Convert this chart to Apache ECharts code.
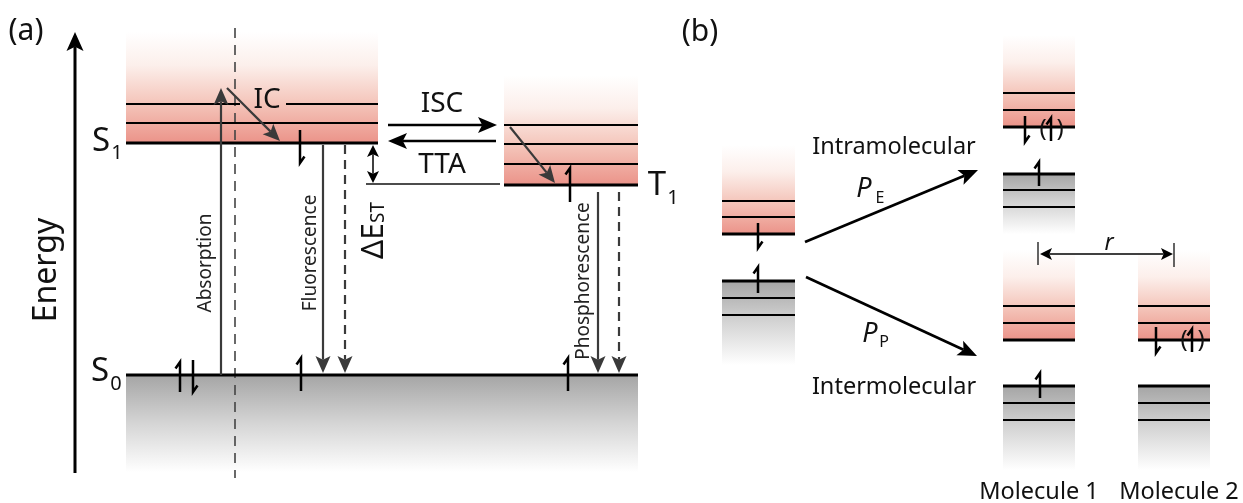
<!DOCTYPE html>
<html>
<head>
<meta charset="utf-8">
<script src="https://cdn.jsdelivr.net/npm/echarts@6/dist/echarts.min.js"></script>
<style>
  html, body { margin: 0; padding: 0; background: #ffffff; }
  #chart { width: 1243px; height: 503px; }
</style>
</head>
<body>
<div id="chart"></div>
<script>
// ---- Diagram data (x, y in diagram units; y grows downward) ----

// Excited-state manifolds: [xStart, xEnd, yFaded, yBase]
const excitedBands = [
  [126, 378, 32, 143],    // S1
  [504, 638, 75, 185],    // T1
  [722, 795, 145, 234],   // donor, panel (b)
  [1003, 1075, 35, 127],  // intramolecular product
  [1003, 1075, 250, 340], // molecule 1
  [1138, 1210, 250, 340]  // molecule 2
];

// Ground-state manifolds: [xStart, xEnd, yBase, yFaded]
const groundBands = [
  [126, 638, 375, 472],   // S0
  [722, 795, 281, 365],
  [1003, 1075, 174, 234],
  [1003, 1075, 386, 470],
  [1138, 1210, 386, 470]
];

// Vibrational sub-levels: [xStart, xEnd, y]
const vibLevels = [
  [126, 240, 104], [286, 378, 104], [126, 378, 123],
  [504, 638, 125], [504, 638, 144], [504, 638, 164],
  [722, 795, 201], [722, 795, 217],
  [722, 795, 298], [722, 795, 315],
  [1003, 1075, 93], [1003, 1075, 110],
  [1003, 1075, 190], [1003, 1075, 207],
  [1003, 1075, 306], [1003, 1075, 323],
  [1003, 1075, 403], [1003, 1075, 420],
  [1138, 1210, 306], [1138, 1210, 323],
  [1138, 1210, 403], [1138, 1210, 420]
];

// Lowest level of each manifold: [xStart, xEnd, y]
const baseLevels = [
  [126, 378, 143], [504, 638, 185], [126, 638, 375],
  [722, 795, 234], [722, 795, 281],
  [1003, 1075, 127], [1003, 1075, 174],
  [1003, 1075, 340], [1003, 1075, 386],
  [1138, 1210, 340], [1138, 1210, 386]
];

// Electron spins: [x, yTop, yBottom]
const spinUp = [
  [180, 362, 392], [301, 358, 391], [568, 358, 391], [570, 168, 202],
  [758, 267, 293], [1039, 162, 186], [1040, 373, 398],
  [1051, 118, 141], [1192, 329, 352]
];
const spinDown = [
  [193, 360, 392], [300, 130, 163], [758, 223, 248],
  [1025, 116, 142], [1156, 327, 353]
];
// Bracketed (optional) spins: [xCenter, yCenter]
const bracketedSpins = [[1051, 129], [1192, 340]];

// Transitions: [xFrom, yFrom, xTo, yTo]
const radiativeArrows = [
  [221, 375, 221, 88],   // absorption
  [227, 88, 280, 141],   // internal conversion
  [323, 145, 323, 373],  // fluorescence
  [510, 127, 555, 183],  // relaxation in T1
  [598, 192, 598, 373]   // phosphorescence
];
const delayedArrows = [
  [345, 145, 345, 373],
  [619, 192, 619, 373]
];
const transferArrows = [
  [388, 125, 497, 125],  // ISC
  [496, 141, 388, 141],  // TTA
  [805, 242, 978, 170],  // P_E
  [806, 277, 977, 356]   // P_P
];
const energyAxis = [[75, 473, 75, 32]];
const gapArrows = [
  [373, 145, 373, 183],  // singlet-triplet gap
  [1040, 254, 1173, 254] // separation r
];
const guideLines = [
  [366, 184, 500, 184],
  [1038, 242, 1038, 265],
  [1174, 243, 1174, 267]
];
const dashedGuide = [[235, 28, 235, 478]];

// Text
const panelLabels = [['(a)', 26, 31], ['(b)', 700, 32]];
const processLabels = [['IC', 267, 100], ['ISC', 442, 104], ['TTA', 442, 165]];
const transitionLabels = [
  ['Absorption', 206, 263], ['Fluorescence', 311, 253], ['Phosphorescence', 584, 281]
];
const axisLabels = [['Energy', 47, 270]];
const pathwayLabels = [
  ['Intramolecular', 894, 147], ['Intermolecular', 894, 387],
  ['Molecule 1', 1039, 492], ['Molecule 2', 1179, 492]
];
// [symbol, subscript, x, y, xSub, ySub]
const stateLabels = [
  ['S', '1', 101, 142, 117, 153],
  ['S', '0', 100, 372, 116, 384],
  ['T', '1', 657, 186, 673, 198]
];
const rateLabels = [
  ['P', 'E', 864, 189, 880, 198],
  ['P', 'P', 870, 334, 884, 342]
];
const gapLabel = [['\u0394E', 'ST', 374, 259]];
const distanceLabel = [['r', 1109, 243]];

// ---- Rendering ----
const FONT = '"Noto Sans", "Open Sans", sans-serif';
const chart = echarts.init(document.getElementById('chart'), null, { renderer: 'canvas' });

function bandRenderer(stops) {
  return function (params, api) {
    const a = api.coord([api.value(0), api.value(2)]);
    const b = api.coord([api.value(1), api.value(3)]);
    const top = Math.min(a[1], b[1]);
    const flip = a[1] > b[1];
    return {
      type: 'rect',
      shape: { x: a[0], y: top, width: b[0] - a[0], height: Math.abs(b[1] - a[1]) },
      style: {
        fill: new echarts.graphic.LinearGradient(0, flip ? 1 : 0, 0, flip ? 0 : 1, stops)
      },
      silent: true
    };
  };
}

function levelRenderer(width) {
  return function (params, api) {
    const a = api.coord([api.value(0), api.value(2)]);
    const b = api.coord([api.value(1), api.value(2)]);
    return {
      type: 'line',
      shape: { x1: a[0], y1: a[1], x2: b[0], y2: b[1] },
      style: { stroke: '#000000', lineWidth: width }
    };
  };
}

function head(p0, p1, len, half) {
  const dx = p1[0] - p0[0], dy = p1[1] - p0[1];
  const L = Math.hypot(dx, dy);
  const ux = dx / L, uy = dy / L, nx = -uy, ny = ux;
  const bx = p1[0] - ux * len, by = p1[1] - uy * len;
  const kx = p1[0] - ux * len * 0.78, ky = p1[1] - uy * len * 0.78;
  return {
    points: [[p1[0], p1[1]], [bx + nx * half, by + ny * half], [kx, ky], [bx - nx * half, by - ny * half]],
    end: [kx, ky]
  };
}

function arrowRenderer(o) {
  return function (params, api) {
    const p0 = api.coord([api.value(0), api.value(1)]);
    const p1 = api.coord([api.value(2), api.value(3)]);
    const children = [];
    let a = p0, b = p1;
    if (o.len) {
      const h = head(p0, p1, o.len, o.half);
      b = h.end;
      children.push({ type: 'polygon', shape: { points: h.points }, style: { fill: o.color } });
      if (o.both) {
        const h2 = head(p1, p0, o.len, o.half);
        a = h2.end;
        children.push({ type: 'polygon', shape: { points: h2.points }, style: { fill: o.color } });
      }
    }
    children.unshift({
      type: 'line',
      shape: { x1: a[0], y1: a[1], x2: b[0], y2: b[1] },
      style: { stroke: o.color, lineWidth: o.width, lineDash: o.dash || null }
    });
    return { type: 'group', children: children };
  };
}

function spinRenderer(up) {
  return function (params, api) {
    const t = api.coord([api.value(0), api.value(1)]);
    const b = api.coord([api.value(0), api.value(2)]);
    const pts = up
      ? [[t[0] - 4.5, t[1] + 6.5], [t[0], t[1]], [b[0], b[1]]]
      : [[t[0], t[1]], [b[0], b[1]], [b[0] + 4.5, b[1] - 6.5]];
    return {
      type: 'polyline',
      shape: { points: pts },
      style: { stroke: '#000000', lineWidth: 2.5, fill: null, lineJoin: 'miter' }
    };
  };
}

function textRenderer(list, size, opts) {
  opts = opts || {};
  return function (params, api) {
    const p = api.coord([api.value(0), api.value(1)]);
    return {
      type: 'text',
      x: p[0], y: p[1],
      rotation: opts.rotate ? Math.PI / 2 : 0,
      style: {
        text: list[params.dataIndex][0],
        fontSize: size,
        fontFamily: FONT,
        fontStyle: opts.italic ? 'italic' : 'normal',
        fill: opts.color || '#111111',
        align: 'center',
        verticalAlign: 'middle'
      }
    };
  };
}

function subscriptRenderer(list, size, subSize, italic) {
  return function (params, api) {
    const d = list[params.dataIndex];
    const p = api.coord([d[2], d[3]]);
    const q = api.coord([d[4], d[5]]);
    return {
      type: 'group',
      children: [
        { type: 'text', x: p[0], y: p[1], style: { text: d[0], fontSize: size, fontFamily: FONT, fontStyle: italic ? 'italic' : 'normal', fill: '#111111', align: 'center', verticalAlign: 'middle' } },
        { type: 'text', x: q[0], y: q[1], style: { text: d[1], fontSize: subSize, fontFamily: FONT, fill: '#111111', align: 'center', verticalAlign: 'middle' } }
      ]
    };
  };
}

function gapLabelRenderer(params, api) {
  const d = gapLabel[params.dataIndex];
  const p = api.coord([d[2], d[3]]);
  return {
    type: 'group', x: p[0], y: p[1], rotation: Math.PI / 2,
    children: [
      { type: 'text', x: 0, y: 0, style: { text: d[0], fontSize: 30, fontFamily: FONT, fill: '#111111', align: 'left', verticalAlign: 'middle' } },
      { type: 'text', x: 36, y: 5, style: { text: d[1], fontSize: 19, fontFamily: FONT, fill: '#111111', align: 'left', verticalAlign: 'middle' } }
    ]
  };
}

function bracketRenderer(params, api) {
  const p = api.coord([api.value(0), api.value(1)]);
  const s = { fontSize: 24, fontFamily: FONT, fill: '#111111', align: 'center', verticalAlign: 'middle' };
  return {
    type: 'group',
    children: [
      { type: 'text', x: p[0] - 8, y: p[1], style: Object.assign({ text: '(' }, s) },
      { type: 'text', x: p[0] + 9, y: p[1], style: Object.assign({ text: ')' }, s) }
    ]
  };
}

const pink = [
  { offset: 0, color: 'rgba(255,255,255,1)' },
  { offset: 0.3, color: '#fcefeb' },
  { offset: 0.65, color: '#f4c4b9' },
  { offset: 1, color: '#eb9389' }
];
const grey = [
  { offset: 0, color: '#a5a5a5' },
  { offset: 0.5, color: '#d5d5d5' },
  { offset: 1, color: 'rgba(255,255,255,1)' }
];

const xy = (arr) => arr.map((d) => [d[1], d[2]]);
const pt = (arr) => arr.map((d) => [d[2], d[3]]);

function custom(data, renderItem, z) {
  return { type: 'custom', data: data, renderItem: renderItem, z: z || 2, silent: true, clip: false };
}

chart.setOption({
  animation: false,
  backgroundColor: '#ffffff',
  grid: { left: 0, right: 0, top: 0, bottom: 0 },
  xAxis: { type: 'value', min: 0, max: 1243, show: false },
  yAxis: { type: 'value', min: 0, max: 503, inverse: true, show: false },
  series: [
    custom(excitedBands, bandRenderer(pink), 1),
    custom(groundBands, bandRenderer(grey), 1),
    custom(dashedGuide, arrowRenderer({ color: '#444444', width: 1.6, dash: [10, 7] }), 2),
    custom(vibLevels, levelRenderer(2), 3),
    custom(baseLevels, levelRenderer(3), 3),
    custom(guideLines, arrowRenderer({ color: '#111111', width: 1.3 }), 3),
    custom(radiativeArrows, arrowRenderer({ color: '#3a3a3a', width: 2.2, len: 17, half: 7.5 }), 4),
    custom(delayedArrows, arrowRenderer({ color: '#3a3a3a', width: 2.2, len: 17, half: 7.5, dash: [9, 6] }), 4),
    custom(transferArrows, arrowRenderer({ color: '#000000', width: 2.7, len: 19, half: 8 }), 4),
    custom(energyAxis, arrowRenderer({ color: '#000000', width: 3, len: 19, half: 8.5 }), 4),
    custom(gapArrows, arrowRenderer({ color: '#000000', width: 1.5, len: 12, half: 6, both: true }), 4),
    custom(spinUp, spinRenderer(true), 5),
    custom(spinDown, spinRenderer(false), 5),
    custom(bracketedSpins, bracketRenderer, 5),
    custom(xy(panelLabels), textRenderer(panelLabels, 30), 6),
    custom(xy(processLabels), textRenderer(processLabels, 28), 6),
    custom(xy(transitionLabels), textRenderer(transitionLabels, 19, { rotate: true, color: '#222222' }), 6),
    custom(xy(axisLabels), textRenderer(axisLabels, 32, { rotate: true }), 6),
    custom(xy(pathwayLabels), textRenderer(pathwayLabels, 23.5), 6),
    custom(xy(distanceLabel), textRenderer(distanceLabel, 23, { italic: true }), 6),
    custom(pt(stateLabels), subscriptRenderer(stateLabels, 33, 20, false), 6),
    custom(pt(rateLabels), subscriptRenderer(rateLabels, 27, 16, true), 6),
    custom(pt(gapLabel), gapLabelRenderer, 6)
  ]
});
</script>
</body>
</html>
